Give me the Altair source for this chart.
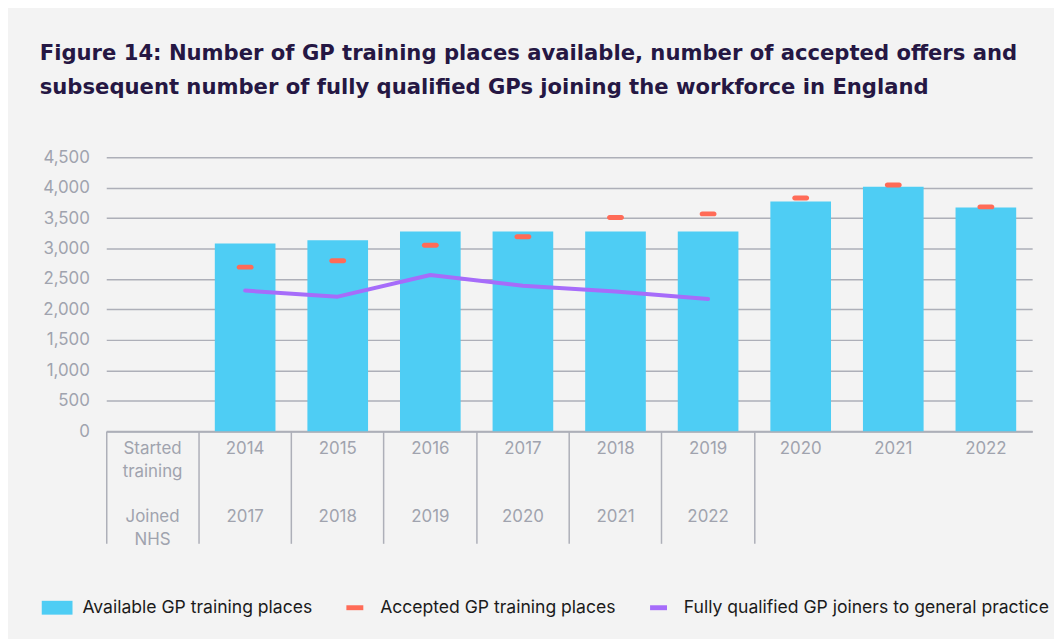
import altair as alt
import pandas as pd

# ---- data ----
started = ["2014", "2015", "2016", "2017", "2018", "2019", "2020", "2021", "2022"]
joined = ["2017", "2018", "2019", "2020", "2021", "2022", "", "", ""]
available = [3085, 3135, 3280, 3280, 3280, 3280, 3775, 4015, 3675]
accepted = [2695, 2800, 3055, 3195, 3510, 3570, 3830, 4045, 3685]
joiners = [2310, 2210, 2565, 2390, 2295, 2170, None, None, None]

header_key = "Started training"
header_started = ["Started", "training"]
header_joined = ["Joined", "NHS"]
series_names = [
    "Available GP training places",
    "Accepted GP training places",
    "Fully qualified GP joiners to general practice",
]
series_colors = ["#4ecdf4", "#ff6b57", "#a66cfa"]
title_lines = [
    "Figure 14: Number of GP training places available, number of accepted offers and",
    "subsequent number of fully qualified GPs joining the workforce in England",
]

df = pd.DataFrame({
    "started": started,
    "joined": joined,
    "available": available,
    "accepted": accepted,
    "joiners": joiners,
})

cats = [header_key] + started


def arr(lines):
    return "[" + ",".join("'" + s + "'" for s in lines) + "]"


def make_expr(header_lines, mapping):
    parts = [f"datum.value == '{header_key}' ? {arr(header_lines)}"]
    for k, v in mapping:
        parts.append(f"datum.value == '{k}' ? '{v}'")
    return " : ".join(parts) + " : ''"


started_expr = make_expr(header_started, zip(started, started))
joined_expr = make_expr(header_joined, zip(started, joined))

FONT = "Inter"
TITLE_FONT = "DejaVu Sans"
GRAY = "#a0a3ae"
LINE_GRAY = "#adafb8"
LINE_H = 22.7

xscale = alt.Scale(domain=cats, paddingInner=0, paddingOuter=0)
yscale = alt.Scale(domain=[0, 4500], nice=False)

y_axis = alt.Axis(
    values=list(range(0, 4501, 500)), format=",d", grid=True, gridColor=LINE_GRAY,
    gridWidth=1.5, domain=False, ticks=False, labelPadding=17, labelFontSize=17,
    labelColor=GRAY, labelFont=FONT, title=None,
)

tick_axis = alt.Axis(
    orient="bottom", labels=False, ticks=True, tickSize=113, tickWidth=1.5,
    tickColor={"condition": {"test": "datum.value == '2021' || datum.value == '2022'",
                             "value": "transparent"}, "value": LINE_GRAY},
    bandPosition=0, domain=True, domainColor=LINE_GRAY, domainWidth=2,
    grid=False, title=None,
)


def label_axis(expr, pad):
    return alt.Axis(
        orient="bottom", labels=True, ticks=False, domain=False, grid=False,
        title=None, labelExpr=expr, labelLineHeight=LINE_H, labelFontSize=17,
        labelColor=GRAY, labelFont=FONT, labelPadding=pad, labelBaseline="top",
        labelOverlap=False, labelAlign="center", labelAngle=0, labelLimit=0,
        bandPosition=0.5,
    )


legend = alt.Legend(
    title=None, orient="none", legendX=-65, legendY=438, direction="horizontal",
    columns=3, labelFontSize=17.7, labelColor="#1b1b1b", labelFont=FONT,
    labelLimit=0, symbolSize=961, symbolStrokeWidth=0, labelOffset=10,
    columnPadding=27,
    symbolType=alt.ExprRef(
        expr="datum.value == 'Available GP training places' ? "
             "'M-1,-0.45H1V0.45H-1Z' : 'M-0.55,-0.16H0.55V0.16H-0.55Z'"
    ),
)
cscale = alt.Scale(domain=series_names, range=series_colors)
color_enc = alt.Color("series:N", scale=cscale, legend=legend, sort=series_names)

base = alt.Chart(df)

bars = base.transform_calculate(series=f"'{series_names[0]}'").mark_bar(
    width=alt.RelativeBandSize(0.655)
).encode(
    x=alt.X("started:N", scale=xscale, axis=tick_axis),
    y=alt.Y("available:Q", scale=yscale, axis=y_axis),
    color=color_enc,
)

line = base.transform_calculate(series=f"'{series_names[2]}'").mark_line(
    strokeWidth=4, strokeCap="round", strokeJoin="round"
).encode(
    x=alt.X("started:N", scale=xscale, axis=label_axis(joined_expr, 10 + 3 * LINE_H)),
    y=alt.Y("joiners:Q", scale=yscale, axis=y_axis),
    color=color_enc,
)

ticks = base.transform_calculate(series=f"'{series_names[1]}'").mark_tick(
    thickness=5, size=17, cornerRadius=2.5, opacity=1
).encode(
    x=alt.X("started:N", scale=xscale, axis=label_axis(started_expr, 10)),
    y=alt.Y("accepted:Q", scale=yscale, axis=y_axis),
    color=color_enc,
)

chart = alt.layer(bars, line, ticks).resolve_axis(x="independent").properties(
    width=933,
    height=276,
    autosize=alt.AutoSizeParams(type="none"),
    padding={"left": 99, "top": 148, "right": 22, "bottom": 207},
    title=alt.TitleParams(
        text=title_lines, anchor="start", frame="group", dx=-67, offset=50,
        font=TITLE_FONT, fontSize=21.3, fontWeight="bold", color="#251743",
        lineHeight=35,
    ),
).configure(background="#f3f3f3").configure_view(stroke=None)

chart.save("out.html", embed_options={"renderer": "svg", "actions": False})
